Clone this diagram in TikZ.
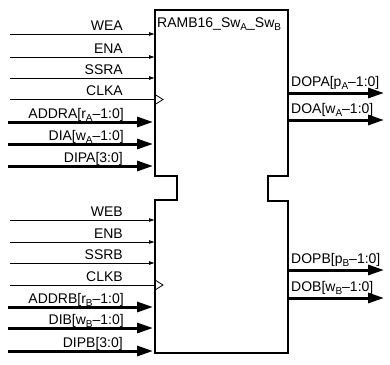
\documentclass[tikz,border=0pt]{standalone}
\usepackage{fontspec}
\setmainfont{Liberation Sans}
\usetikzlibrary{arrows.meta}
\newcommand\sbs[1]{\raisebox{-0.28em}{\fontsize{10}{10}\selectfont #1}}
\begin{document}
\begin{tikzpicture}[x=1pt,y=-1pt,
  font=\fontsize{14}{15}\selectfont,
  sigline/.style={line width=0.8pt,-{Latex[length=6pt,width=4pt]}},
  clkline/.style={line width=0.8pt},
  bus/.style={line width=3pt,-{Triangle[length=16pt,width=10pt]}},
  lbl/.style={anchor=base east,inner sep=0pt},
  olbl/.style={anchor=base west,inner sep=0pt},
  blk/.style={line width=1.3pt}]
\useasboundingbox (0,0) rectangle (390,364);
% block outline
\draw[blk] (155,10) -- (288,10) -- (288,176) -- (268,176) -- (268,201) -- (288,201)
  -- (288,353) -- (155,353) -- (155,200) -- (177,200) -- (177,176) -- (155,176) -- cycle;
\node[anchor=base west,inner sep=0pt] (title) at (157,27) {RAMB16\_Sw\sbs{A}\_Sw\sbs{B}};
% clock triangles
\draw[line width=0.8pt] (155,94.5) -- (163,99.5) -- (155,104.5);
\draw[line width=0.8pt] (155,280) -- (163,285) -- (155,290);
% ---- port A inputs
\coordinate (weaS) at (10,34);  \coordinate (weaE) at (155,34);
\coordinate (enaS) at (10,57);  \coordinate (enaE) at (155,57);
\coordinate (ssraS) at (10,78); \coordinate (ssraE) at (155,78);
\coordinate (clkaS) at (10,99.5); \coordinate (clkaE) at (155,99.5);
\coordinate (addraS) at (8,122); \coordinate (addraE) at (153,122);
\coordinate (diaS) at (8,144);  \coordinate (diaE) at (153,144);
\coordinate (dipaS) at (8,166); \coordinate (dipaE) at (153,166);
\draw[sigline] (weaS) -- (weaE);
\draw[sigline] (enaS) -- (enaE);
\draw[sigline] (ssraS) -- (ssraE);
\draw[clkline] (clkaS) -- (clkaE);
\draw[bus] (addraS) -- (addraE);
\draw[bus] (diaS) -- (diaE);
\draw[bus] (dipaS) -- (dipaE);
\node[lbl] (lwea) at (123,30.5) {WEA};
\node[lbl] (lena) at (123,53) {ENA};
\node[lbl] (lssra) at (123,74) {SSRA};
\node[lbl] (lclka) at (123,95.5) {CLKA};
\node[lbl] (laddra) at (124,118) {ADDRA[r\sbs{A}–1:0]};
\node[lbl] (ldia) at (124,140) {DIA[w\sbs{A}–1:0]};
\node[lbl] (ldipa) at (123,162) {DIPA[3:0]};
% ---- port A outputs
\coordinate (dopaS) at (288,93); \coordinate (dopaE) at (384,93);
\coordinate (doaS) at (288,120); \coordinate (doaE) at (384,120);
\draw[bus] (dopaS) -- (dopaE);
\draw[bus] (doaS) -- (doaE);
\node[olbl] (ldopa) at (291,86) {DOPA[p\sbs{A}–1:0]};
\node[olbl] (ldoa) at (291,113) {DOA[w\sbs{A}–1:0]};
% ---- port B inputs
\coordinate (webS) at (10,220);  \coordinate (webE) at (155,220);
\coordinate (enbS) at (10,242);  \coordinate (enbE) at (155,242);
\coordinate (ssrbS) at (10,263); \coordinate (ssrbE) at (155,263);
\coordinate (clkbS) at (10,285); \coordinate (clkbE) at (155,285);
\coordinate (addrbS) at (8,307); \coordinate (addrbE) at (153,307);
\coordinate (dibS) at (8,328);  \coordinate (dibE) at (153,328);
\coordinate (dipbS) at (8,351); \coordinate (dipbE) at (153,351);
\draw[sigline] (webS) -- (webE);
\draw[sigline] (enbS) -- (enbE);
\draw[sigline] (ssrbS) -- (ssrbE);
\draw[clkline] (clkbS) -- (clkbE);
\draw[bus] (addrbS) -- (addrbE);
\draw[bus] (dibS) -- (dibE);
\draw[bus] (dipbS) -- (dipbE);
\node[lbl] (lweb) at (123,216) {WEB};
\node[lbl] (lenb) at (123,238) {ENB};
\node[lbl] (lssrb) at (123,259) {SSRB};
\node[lbl] (lclkb) at (123,281) {CLKB};
\node[lbl] (laddrb) at (124,303) {ADDRB[r\sbs{B}–1:0]};
\node[lbl] (ldib) at (124,324) {DIB[w\sbs{B}–1:0]};
\node[lbl] (ldipb) at (123,347) {DIPB[3:0]};
% ---- port B outputs
\coordinate (dopbS) at (288,270); \coordinate (dopbE) at (384,270);
\coordinate (dobS) at (288,298); \coordinate (dobE) at (384,298);
\draw[bus] (dopbS) -- (dopbE);
\draw[bus] (dobS) -- (dobE);
\node[olbl] (ldopb) at (291,263) {DOPB[p\sbs{B}–1:0]};
\node[olbl] (ldob) at (291,291) {DOB[w\sbs{B}–1:0]};
\end{tikzpicture}
\end{document}
